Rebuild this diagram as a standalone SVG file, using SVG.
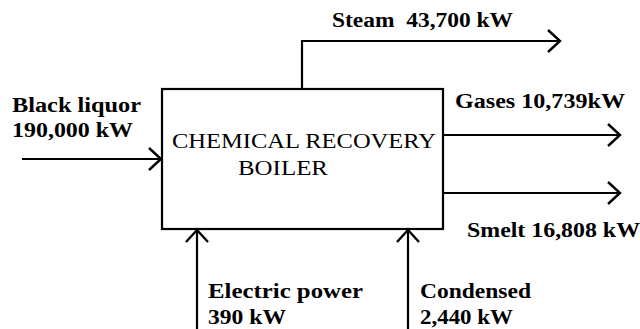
<svg xmlns="http://www.w3.org/2000/svg" width="640" height="329" viewBox="0 0 640 329">
<style>
.lbl{font-size:20px;font-weight:bold;fill:#000}
.box{font-size:22px;fill:#000}
.ln{fill:none;stroke:#000;stroke-width:2.2;marker-end:url(#ah)}
</style>
<defs>
<marker id="ah" markerUnits="userSpaceOnUse" viewBox="-16 -16 32 32" markerWidth="32" markerHeight="32" refX="0" refY="0" orient="auto">
<path d="M-12,-11 L0,0 L-12,11" fill="none" stroke="#000" stroke-width="2.4"/>
</marker>
</defs>
<rect width="640" height="329" fill="#fff"/>
<g id="boiler" font-family="Liberation Serif, serif">
<rect x="162" y="89" width="281" height="140" fill="#fff" stroke="#000" stroke-width="2.2"/>
<text class="box" x="172" y="148" textLength="264" lengthAdjust="spacingAndGlyphs">CHEMICAL RECOVERY</text>
<text class="box" x="238" y="175" textLength="90" lengthAdjust="spacingAndGlyphs">BOILER</text>
</g>
<g id="connectors">
<path class="ln" d="M22,159 H161"/>
<path class="ln" d="M302,89 V41 H560"/>
<path class="ln" d="M443,135 H620"/>
<path class="ln" d="M443,193 H620"/>
<path class="ln" d="M197,329 V230"/>
<path class="ln" d="M408,329 V230"/>
</g>
<g id="black-liquor" font-family="Liberation Serif, serif">
<text class="lbl" x="12" y="112" textLength="129" lengthAdjust="spacingAndGlyphs">Black liquor</text>
<text class="lbl" x="12" y="137" textLength="121" lengthAdjust="spacingAndGlyphs">190,000 kW</text>
</g>
<g id="steam" font-family="Liberation Serif, serif">
<text class="lbl" x="332" y="27" textLength="181" lengthAdjust="spacingAndGlyphs" xml:space="preserve">Steam  43,700 kW</text>
</g>
<g id="gases" font-family="Liberation Serif, serif">
<text class="lbl" x="455" y="108" textLength="170" lengthAdjust="spacingAndGlyphs">Gases 10,739kW</text>
</g>
<g id="smelt" font-family="Liberation Serif, serif">
<text class="lbl" x="467" y="237" textLength="173" lengthAdjust="spacingAndGlyphs">Smelt 16,808 kW</text>
</g>
<g id="electric-power" font-family="Liberation Serif, serif">
<text class="lbl" x="208" y="298" textLength="155" lengthAdjust="spacingAndGlyphs">Electric power</text>
<text class="lbl" x="208" y="324" textLength="78" lengthAdjust="spacingAndGlyphs">390 kW</text>
</g>
<g id="condensed" font-family="Liberation Serif, serif">
<text class="lbl" x="420" y="298" textLength="111" lengthAdjust="spacingAndGlyphs">Condensed</text>
<text class="lbl" x="420" y="324" textLength="93" lengthAdjust="spacingAndGlyphs">2,440 kW</text>
</g>
</svg>
